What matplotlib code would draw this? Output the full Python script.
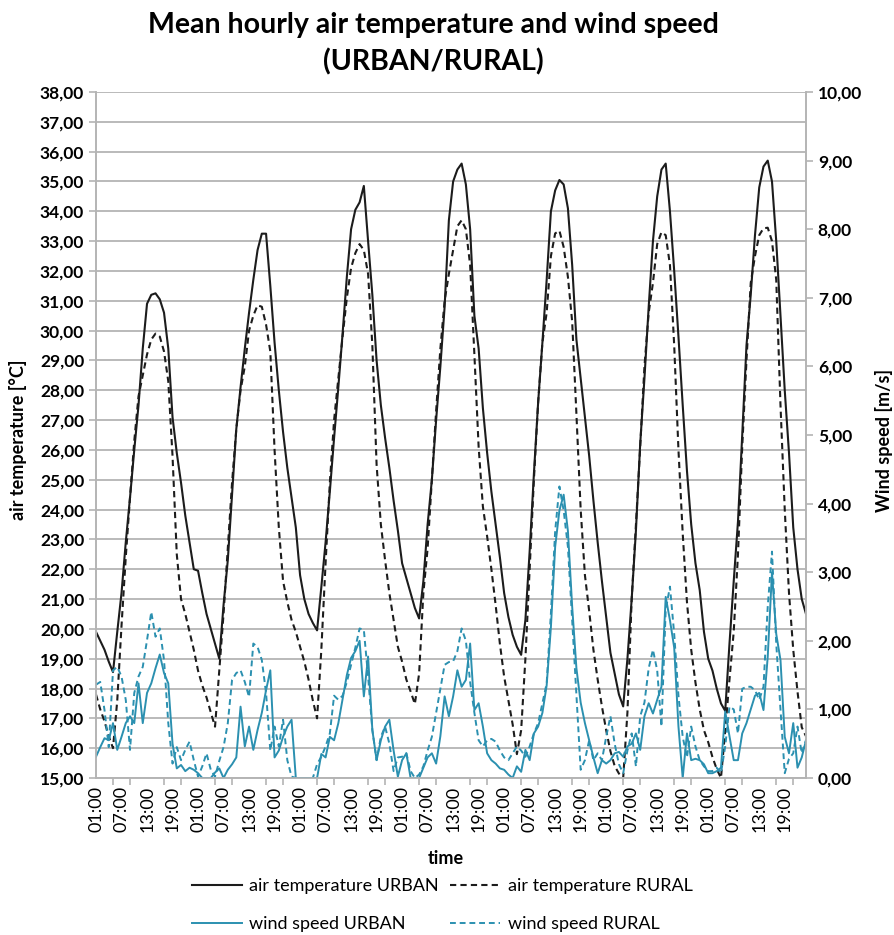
import matplotlib
matplotlib.use("Agg")
import matplotlib.pyplot as plt
import numpy as np
from matplotlib.lines import Line2D

plt.rcParams['font.family'] = ['Lato', 'DejaVu Sans']

# hourly values, 7 days x 24 h, first point = 01:00 of day 1
temp_urban = [
    19.9, 19.6, 19.3, 18.9, 18.55, 19.9, 21.2, 22.9, 24.4, 26.0, 27.5, 29.4, 30.9, 31.2, 31.25, 31.05, 30.6, 29.4, 27.1, 25.9, 24.9, 23.8, 22.9, 22.0,
    21.95, 21.2, 20.5, 20.0, 19.5, 19.0, 20.8, 22.3, 24.5, 26.7, 28.1, 29.4, 30.6, 31.7, 32.7, 33.25, 33.25, 31.5, 29.6, 28.0, 26.6, 25.4, 24.4, 23.4,
    21.8, 21.0, 20.5, 20.2, 19.95, 21.4, 22.9, 24.6, 26.4, 28.1, 29.9, 31.8, 33.4, 34.05, 34.3, 34.85, 33.0, 31.2, 29.0, 27.5, 26.4, 25.4, 24.3, 23.3,
    22.2, 21.7, 21.2, 20.7, 20.35, 21.6, 23.5, 25.0, 27.0, 28.8, 30.8, 33.7, 35.0, 35.4, 35.6, 34.9, 33.4, 30.5, 29.4, 27.4, 25.9, 24.6, 23.5, 22.4,
    21.2, 20.4, 19.8, 19.4, 19.13, 20.3, 22.6, 25.2, 27.6, 29.6, 31.7, 34.0, 34.7, 35.05, 34.9, 34.1, 32.2, 29.7, 28.4, 27.1, 25.8, 24.3, 22.9, 21.6,
    20.4, 19.2, 18.5, 17.8, 17.4, 19.0, 21.0, 23.3, 26.2, 28.4, 30.8, 33.0, 34.5, 35.4, 35.6, 34.0, 32.0, 29.8, 27.5, 25.3, 23.5, 22.2, 21.3, 19.9,
    19.0, 18.6, 18.0, 17.5, 17.25, 19.5, 21.6, 23.6, 26.5, 29.5, 31.2, 33.2, 34.8, 35.5, 35.7, 35.0, 33.0, 30.5, 28.0, 25.9, 23.4, 22.0, 21.0, 20.5,
]
temp_rural = [
    17.8, 17.3, 16.9, 16.4, 16.0, 17.6, 20.1, 22.4, 24.4, 26.3, 27.8, 28.5, 29.2, 29.7, 29.9, 29.8, 29.3, 28.3, 25.8, 22.5, 21.0, 20.5, 19.9, 19.3,
    18.6, 18.1, 17.7, 17.2, 16.72, 18.6, 20.5, 22.7, 24.9, 26.7, 28.0, 28.8, 30.0, 30.5, 30.85, 30.8, 30.2, 29.3, 26.0, 23.4, 21.6, 20.9, 20.3, 19.9,
    19.4, 18.9, 18.3, 17.6, 17.0, 19.3, 22.2, 24.9, 27.0, 28.4, 29.8, 31.1, 32.1, 32.6, 32.9, 32.7, 31.9, 29.5, 25.5, 23.5, 22.3, 21.2, 20.3, 19.4,
    18.9, 18.3, 17.9, 17.48, 18.5, 21.2, 22.7, 25.0, 27.3, 29.4, 31.0, 31.9, 32.7, 33.5, 33.7, 33.4, 32.2, 29.2, 26.1, 24.1, 23.1, 22.0, 20.8, 19.5,
    18.4, 17.6, 16.8, 15.8, 16.6, 19.0, 22.0, 25.0, 27.6, 29.6, 30.6, 32.5, 33.26, 33.35, 32.8, 31.8, 30.3, 27.2, 24.0, 21.8, 20.6, 19.3, 18.3, 17.4,
    16.6, 15.9, 15.4, 15.15, 15.0, 17.2, 21.0, 23.5, 26.1, 28.8, 30.6, 31.6, 32.9, 33.3, 33.2, 32.2, 29.5, 26.0, 23.2, 20.9, 19.3, 18.2, 17.3, 16.6,
    16.2, 15.7, 15.3, 15.0, 16.6, 18.3, 19.9, 22.5, 26.1, 29.0, 31.6, 32.5, 33.2, 33.43, 33.45, 33.0, 31.7, 27.5, 24.0, 21.2, 19.3, 17.9, 16.7, 16.4,
]
wind_urban = [
    0.31, 0.45, 0.58, 0.55, 0.80, 0.41, 0.60, 0.80, 0.90, 0.80, 1.38, 0.80, 1.24, 1.38, 1.60, 1.80, 1.53, 1.38, 0.50, 0.14, 0.19, 0.10, 0.15, 0.12,
    0.07, 0.0, 0.0, 0.0, 0.08, 0.14, 0.0, 0.12, 0.20, 0.30, 1.04, 0.46, 0.75, 0.41, 0.70, 0.95, 1.28, 1.57, 0.30, 0.40, 0.60, 0.75, 0.85, 0.0,
    0.0, 0.0, 0.0, 0.0, 0.0, 0.35, 0.30, 0.60, 0.55, 0.80, 1.15, 1.50, 1.75, 1.85, 2.00, 1.19, 1.77, 0.70, 0.26, 0.55, 0.75, 0.85, 0.40, 0.02,
    0.26, 0.36, 0.0, 0.0, 0.0, 0.15, 0.30, 0.36, 0.21, 0.61, 1.19, 0.90, 1.19, 1.57, 1.33, 1.43, 1.96, 0.99, 1.09, 0.75, 0.36, 0.26, 0.21, 0.14,
    0.12, 0.05, 0.0, 0.17, 0.09, 0.41, 0.26, 0.65, 0.75, 0.95, 1.35, 2.20, 3.37, 3.90, 4.13, 3.60, 2.50, 1.60, 1.10, 0.80, 0.55, 0.30, 0.07, 0.26,
    0.21, 0.26, 0.36, 0.38, 0.31, 0.46, 0.50, 0.65, 0.41, 0.90, 1.09, 0.94, 1.14, 1.33, 2.64, 2.30, 1.90, 0.75, 0.0, 0.65, 0.26, 0.28, 0.26, 0.20,
    0.07, 0.07, 0.10, 0.15, 0.97, 0.61, 0.26, 0.26, 0.65, 0.80, 1.00, 1.20, 1.24, 0.99, 1.77, 3.00, 2.10, 1.72, 0.60, 0.36, 0.80, 0.15, 0.30, 0.55,
]
wind_rural = [
    1.36, 1.40, 0.99, 0.45, 1.57, 1.62, 1.48, 1.14, 0.41, 1.24, 1.48, 1.62, 2.01, 2.42, 2.06, 2.18, 1.72, 0.80, 0.21, 0.45, 0.26, 0.41, 0.53, 0.26,
    0.02, 0.17, 0.36, 0.12, 0.02, 0.25, 0.45, 0.80, 1.43, 1.53, 1.57, 1.40, 1.18, 1.96, 1.91, 1.72, 1.24, 0.40, 0.75, 0.46, 0.85, 0.26, 0.02, 0.0,
    0.0, 0.0, 0.0, 0.0, 0.20, 0.31, 0.46, 0.65, 1.20, 1.14, 1.20, 1.40, 1.65, 1.90, 2.18, 2.16, 1.48, 0.70, 0.26, 0.60, 0.75, 0.50, 0.10, 0.30,
    0.31, 0.36, 0.10, 0.0, 0.05, 0.17, 0.40, 0.60, 0.95, 1.30, 1.65, 1.69, 1.70, 1.85, 2.18, 2.00, 1.40, 0.95, 0.55, 0.46, 0.55, 0.57, 0.53, 0.40,
    0.30, 0.26, 0.36, 0.46, 0.40, 0.31, 0.46, 0.65, 0.80, 1.09, 1.38, 2.40, 3.60, 4.25, 3.90, 3.37, 2.30, 1.20, 0.12, 0.26, 0.55, 0.26, 0.36, 0.26,
    0.60, 0.90, 0.50, 0.20, 0.07, 0.40, 0.65, 0.17, 0.90, 1.10, 1.60, 1.87, 1.57, 0.75, 2.45, 2.79, 2.10, 1.20, 0.60, 0.30, 0.75, 0.46, 0.26, 0.17,
    0.10, 0.10, 0.15, 0.07, 0.46, 1.04, 1.00, 0.65, 1.30, 1.33, 1.33, 1.28, 1.14, 1.33, 2.50, 3.30, 1.96, 1.00, 0.07, 0.28, 0.36, 0.75, 0.36, 0.55,
]
tick_labels = ['01:00', '07:00', '13:00', '19:00'] * 7

hours = np.arange(len(temp_urban))
black = '#1c1c1c'
teal = '#2b90b0'
grid_gray = '#b4b4b4'

fig = plt.figure(figsize=(8.94, 9.35), dpi=100)
ax = fig.add_axes([96 / 894, 1 - 778 / 935, 710 / 894, 686 / 935])
ax2 = ax.twinx()

ax.plot(hours, temp_urban, color=black, lw=1.5)
ax.plot(hours, temp_rural, color=black, lw=1.5, ls=(0, (3, 2)))
ax2.plot(hours, wind_urban, color=teal, lw=1.4)
ax2.plot(hours, wind_rural, color=teal, lw=1.4, ls=(0, (3, 2)))

ax.set_xlim(0, 167)
ax.set_ylim(15, 38)
ax2.set_ylim(0, 10)

ax.set_yticks(np.arange(15, 39))
ax.set_yticklabels([f"{v:.2f}".replace('.', ',') for v in range(15, 39)],
                   fontsize=12.5, fontweight='bold')
ax2.set_yticks(np.arange(0, 11))
ax2.set_yticklabels([f"{v:.2f}".replace('.', ',') for v in range(0, 11)],
                    fontsize=12.5, fontweight='bold')

ax.set_xticks(np.arange(0, 168, 6))
ax.set_xticklabels(tick_labels, rotation=90, fontsize=13)
ax.set_xticks(np.arange(0, 168, 4), minor=True)
ax.tick_params(axis='x', which='major', length=0, pad=6)
ax.tick_params(axis='x', which='minor', length=5, color=grid_gray, width=1.2)
ax.tick_params(axis='y', length=5, color=grid_gray, width=1.2)
ax2.tick_params(axis='y', length=5, color=grid_gray, width=1.2)

ax.yaxis.grid(True, color=grid_gray, lw=1.3)
ax.set_axisbelow(True)
for a in (ax, ax2):
    a.spines['top'].set_visible(False)
    for s in ('left', 'right', 'bottom'):
        a.spines[s].set_color(grid_gray)
        a.spines[s].set_linewidth(1.2)

fig.text(433 / 894, 1 - 25 / 935, 'Mean hourly air temperature and wind speed',
         ha='center', va='center', fontsize=20.5, fontweight='bold')
fig.text(433 / 894, 1 - 62 / 935, '(URBAN/RURAL)',
         ha='center', va='center', fontsize=20.5, fontweight='bold')
fig.text(18 / 894, 1 - 440 / 935, 'air temperature [°C]', rotation=90,
         ha='center', va='center', fontsize=13, fontweight='bold')
fig.text(884 / 894, 1 - 440 / 935, 'Wind speed [m/s]', rotation=90,
         ha='center', va='center', fontsize=13, fontweight='bold')
fig.text(446 / 894, 1 - 858 / 935, 'time',
         ha='center', va='center', fontsize=13, fontweight='bold')

handles = [
    Line2D([], [], color=black, lw=1.5),
    Line2D([], [], color=teal, lw=1.4),
    Line2D([], [], color=black, lw=1.5, ls=(0, (3, 2))),
    Line2D([], [], color=teal, lw=1.4, ls=(0, (3, 2))),
]
labels = ['air temperature URBAN', 'wind speed URBAN',
          'air temperature RURAL', 'wind speed RURAL']
fig.legend(handles, labels, ncol=2, loc='center', bbox_to_anchor=(442 / 894, 1 - 905 / 935),
           frameon=False, fontsize=13, handlelength=2.8, handletextpad=0.4,
           columnspacing=0.6, labelspacing=1.2)

fig.savefig('out.png', dpi=100)
